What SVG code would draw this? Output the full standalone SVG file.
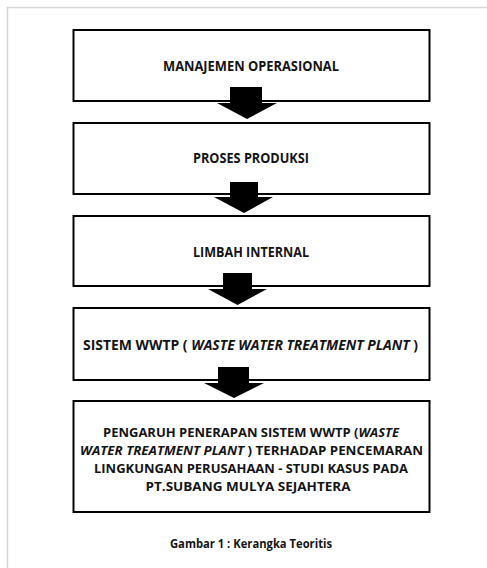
<svg xmlns="http://www.w3.org/2000/svg" width="487" height="568" viewBox="0 0 487 568">
  <style>
    .box { fill: #ffffff; stroke: #000000; stroke-width: 2; }
    .arrow { fill: #000000; stroke: none; }
    .t { font-family: "Open Sans", "Liberation Sans", sans-serif; font-weight: bold; font-size: 13.5px; fill: #141414; text-anchor: middle; }
    .m { font-size: 13px; }
    .i { font-style: italic; }
    .cap { font-family: "Open Sans", "Liberation Sans", sans-serif; font-weight: bold; font-size: 12.5px; fill: #141414; text-anchor: middle; }
    .frame { stroke: #d6d6d6; stroke-width: 1.5; fill: none; }
  </style>
  <rect x="0" y="0" width="487" height="568" fill="#ffffff"/>
  <path class="frame" d="M7.5,568 L7.5,7.5 L487,7.5"/>

  <g id="node1">
    <rect class="box" x="73.5" y="30" width="356" height="71"/>
    <text class="t" x="251" y="71" textLength="176" lengthAdjust="spacingAndGlyphs">MANAJEMEN OPERASIONAL</text>
  </g>
  <g id="node2">
    <rect class="box" x="73.5" y="123" width="356" height="71"/>
    <text class="t" x="251" y="163" textLength="116" lengthAdjust="spacingAndGlyphs">PROSES PRODUKSI</text>
  </g>
  <g id="node3">
    <rect class="box" x="73.5" y="216" width="356" height="70"/>
    <text class="t" x="251" y="257" textLength="116" lengthAdjust="spacingAndGlyphs">LIMBAH INTERNAL</text>
  </g>
  <g id="node4">
    <rect class="box" x="73.5" y="308" width="356" height="72"/>
    <text class="t" x="250.5" y="350" textLength="335" lengthAdjust="spacingAndGlyphs">SISTEM WWTP ( <tspan class="i">WASTE WATER TREATMENT PLANT</tspan> )</text>
  </g>
  <g id="node5">
    <rect class="box" x="73.5" y="401" width="356" height="111"/>
    <text class="t m" x="251" y="437" textLength="296" lengthAdjust="spacingAndGlyphs">PENGARUH PENERAPAN SISTEM WWTP (<tspan class="i">WASTE</tspan></text>
    <text class="t m" x="251.5" y="455" textLength="343" lengthAdjust="spacingAndGlyphs"><tspan class="i">WATER TREATMENT PLANT</tspan> ) TERHADAP PENCEMARAN</text>
    <text class="t m" x="251" y="473" textLength="314" lengthAdjust="spacingAndGlyphs">LINGKUNGAN PERUSAHAAN - STUDI KASUS PADA</text>
    <text class="t m" x="248" y="491" textLength="205" lengthAdjust="spacingAndGlyphs">PT.SUBANG MULYA SEJAHTERA</text>
  </g>

  <g id="caption">
    <text class="cap" x="251" y="548" textLength="162" lengthAdjust="spacingAndGlyphs">Gambar 1 : Kerangka Teoritis</text>
  </g>

  <g id="connectors">
    <polygon class="arrow" points="230,87 262,87 262,103 277,103 247,119 217,103 230,103"/>
    <polygon class="arrow" points="230,182 258,182 258,197 273,197 244,213 214,197 230,197"/>
    <polygon class="arrow" points="223,273 252,273 252,289 267,289 237.5,305 208,289 223,289"/>
    <polygon class="arrow" points="218,367 249,367 249,383 264,383 234,398 204,383 218,383"/>
  </g>
</svg>
